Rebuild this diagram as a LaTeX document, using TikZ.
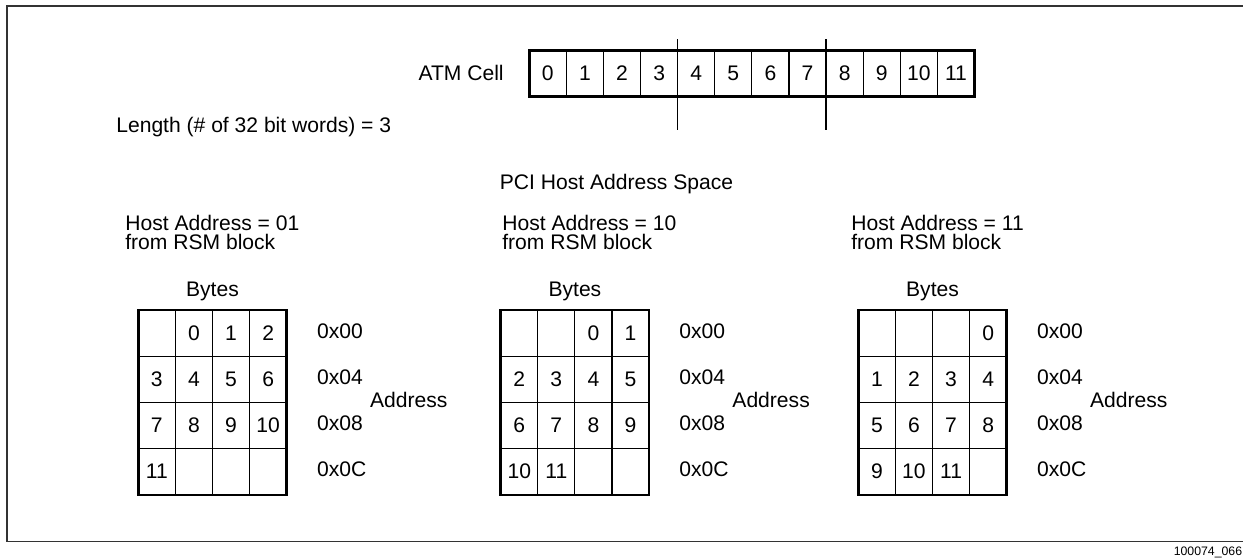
\documentclass[tikz,border=0pt]{standalone}
\usepackage{fontspec}
\setmainfont{Liberation Sans}
\usepackage{tikz}
\usetikzlibrary{calc}
\tikzset{cell/.style={draw,line width=.6pt,minimum width=.742cm,minimum height=.924cm,inner sep=0pt,outer sep=0pt},box/.style={draw,line width=1.4pt},txt/.style={inner sep=0pt},tick/.style={draw,line width=.7pt},frame/.style={draw=black!80,line width=1.1pt}}

\begin{document}
\begin{tikzpicture}[x=.02cm,y=-.02cm,font=\fontsize{12}{11}\selectfont]
\useasboundingbox (0,0) rectangle (1243,558);
\draw[frame] (1250,6)--(7,6)--(7,541.5)--(1250,541.5);
\node[txt,anchor=base east,font=\fontsize{7}{8}\selectfont] (figno) at (1242.5,555) {100074\_066};
% ATM cell row
\node[txt,anchor=base east] (atm) at (504,80.5) {ATM Cell};
\foreach \i in {0,...,11}{\node[cell] (c\i) at (547.85+37.1*\i,73.5) {\i};}
\draw[box] (c0.north west) rectangle (c11.south east);
\foreach \i in {3,7}{\draw[tick] ($(c\i.north east)+(0,-11)$)--($(c\i.south east)+(0,33)$);}
\node[txt,anchor=base west] (len) at (116,132) {Length (\# of 32 bit words) = 3};
\node[txt,anchor=base] (pci) at (616.5,189.5) {PCI Host Address Space};
% host address blocks
\foreach \g/\gx/\off/\hx/\ha in {1/138.3/1/125/01,2/500.7/2/502/10,3/858.3/3/851/11}{
  \node[txt,anchor=north west,align=left] (host\g) at (\hx,215) {Host Address = \ha\\from RSM block};
  \foreach \row in {1,...,4}{\foreach \col in {1,...,4}{
    \pgfmathtruncatemacro\bytenum{4*(\row-1)+\col-1-\off}
    \ifnum\bytenum<0 \def\celltxt{}\else\ifnum\bytenum>11 \def\celltxt{}\else\let\celltxt\bytenum\fi\fi
    \node[cell] (g\g-\row-\col) at (\gx+37.1*\col-18.55,310+46.2*\row-23.1) {\celltxt};}}
  \draw[box] (g\g-1-1.north west) rectangle (g\g-4-4.south east);
  \node[txt,anchor=base] (bytes\g) at ($(g\g-1-1.north west)!.5!(g\g-1-4.north east)+(0,-14)$) {Bytes};
  \foreach \row/\ad in {1/00,2/04,3/08,4/0C}{\node[txt,anchor=west] (a\g-\row) at ($(g\g-\row-4.east)+(30,-2)$) {0x\ad};}
  \node[txt,anchor=west] (addr\g) at ($(g\g-2-4.south east)+(83,-2)$) {Address};
}
\end{tikzpicture}
\end{document}
